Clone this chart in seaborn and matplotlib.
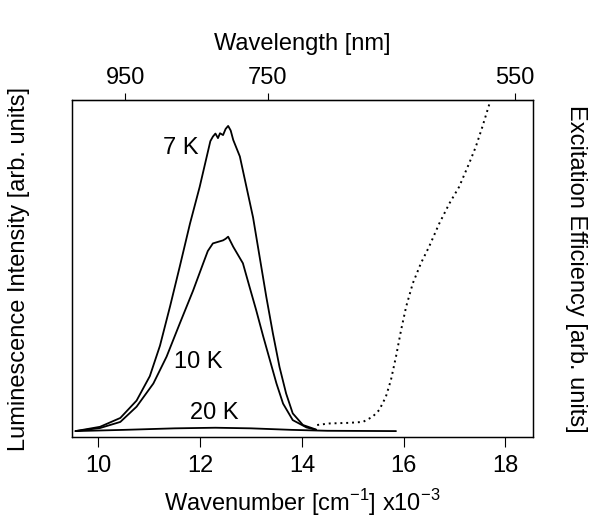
import matplotlib
matplotlib.use('Agg')
import matplotlib.pyplot as plt
import numpy as np
import pandas as pd
import seaborn as sns

# luminescence spectra (wavenumber x10^-3 cm^-1, arb. intensity)
wn_7k = [9.55, 10.03, 10.43, 10.75, 11.01, 11.21, 11.41, 11.60, 11.80, 11.99, 12.13,
         12.20, 12.25, 12.30, 12.35, 12.39, 12.45, 12.50, 12.55, 12.60, 12.65, 12.78,
         12.91, 13.04, 13.17, 13.30, 13.43, 13.56, 13.69, 13.82, 14.02, 14.28]
int_7k = [0.0, 0.014, 0.043, 0.10, 0.18, 0.28, 0.41, 0.54, 0.68, 0.80, 0.90,
          0.95, 0.965, 0.975, 0.96, 0.976, 0.97, 0.99, 1.0, 0.985, 0.954, 0.90,
          0.80, 0.70, 0.57, 0.44, 0.32, 0.21, 0.123, 0.058, 0.02, 0.005]

wn_10k = [9.55, 10.03, 10.43, 10.75, 11.08, 11.34, 11.60, 11.86, 12.06, 12.15, 12.25,
          12.35, 12.45, 12.50, 12.55, 12.65, 12.84, 12.97, 13.10, 13.24, 13.37,
          13.50, 13.63, 13.82, 14.09, 14.28]
int_10k = [0.0, 0.01, 0.03, 0.08, 0.156, 0.244, 0.353, 0.46, 0.55, 0.59, 0.615,
           0.62, 0.625, 0.63, 0.637, 0.604, 0.55, 0.473, 0.397, 0.31, 0.233,
           0.156, 0.09, 0.036, 0.012, 0.004]

wn_20k = [9.55, 10.5, 11.5, 12.3, 13.0, 13.8, 14.5, 15.85]
int_20k = [0.0, 0.004, 0.009, 0.011, 0.009, 0.004, 0.001, 0.0]

# excitation efficiency (dotted, right axis)
wn_exc = [14.30, 14.54, 14.93, 15.20, 15.39, 15.52, 15.65, 15.75, 15.85, 15.95,
          16.05, 16.18, 16.34, 16.50, 16.70, 16.90, 17.09, 17.29, 17.42, 17.55, 17.71]
eff_exc = [0.02, 0.025, 0.027, 0.03, 0.047, 0.069, 0.112, 0.167, 0.244, 0.331,
           0.408, 0.484, 0.55, 0.604, 0.68, 0.746, 0.80, 0.878, 0.932, 0.998, 1.085]

top_ticks = [950, 750, 550]

sns.set_style('ticks')
plt.rcParams['font.family'] = ['Liberation Sans', 'DejaVu Sans']
plt.rcParams['font.size'] = 17
plt.rcParams['mathtext.fontset'] = 'custom'
plt.rcParams['mathtext.rm'] = 'Liberation Sans'
for k in ['text.color', 'axes.labelcolor', 'xtick.color', 'ytick.color']:
    plt.rcParams[k] = 'black'

fig, ax = plt.subplots(figsize=(5.94, 5.18), dpi=100)
fig.subplots_adjust(left=0.1212, right=0.897, top=0.807, bottom=0.156)

for wn, val in [(wn_7k, int_7k), (wn_10k, int_10k), (wn_20k, int_20k)]:
    sns.lineplot(x=wn, y=val, ax=ax, color='black', lw=1.3, sort=False)

ax.set_xlim(9.48, 18.54)
ax.set_ylim(-0.02, 1.085)
ax.set_xticks([10, 12, 14, 16, 18])
ax.set_yticks([])
ax.tick_params(axis='x', direction='out', length=7, width=0.8, pad=6, labelsize=17)
ax.set_xlabel('Wavenumber [cm$^{\\rm{-}1}$] x10$^{\\rm{-}3}$', fontsize=17, labelpad=7)
ax.set_ylabel('Luminescence Intensity [arb. units]', fontsize=17)
ax.yaxis.set_label_coords(-0.091, 0.5)

ax2 = ax.twinx()
sns.lineplot(x=wn_exc, y=eff_exc, ax=ax2, color='black', lw=1.4, sort=False)
ax2.lines[0].set_linestyle((0, (1, 2.0)))
ax2.set_ylim(-0.02, 1.085)
ax2.set_yticks([])
ax2.set_ylabel('Excitation Efficiency [arb. units]', fontsize=17, rotation=270, va='center')
ax2.yaxis.set_label_coords(1.093, 0.5)

sec = ax.secondary_xaxis('top', functions=(lambda x: 1e4 / x, lambda x: 1e4 / x))
sec.set_xticks(top_ticks)
sec.tick_params(direction='out', length=5, width=0.8, pad=3, labelsize=17)
sec.set_xlabel('Wavelength [nm]', fontsize=17, labelpad=12)

for a in (ax, ax2):
    for s in a.spines.values():
        s.set_linewidth(0.9)
        s.set_color('black')

ax.text(11.62, 0.928, '7 K', ha='center', va='center', fontsize=17)
ax.text(11.96, 0.226, '10 K', ha='center', va='center', fontsize=17)
ax.text(12.27, 0.059, '20 K', ha='center', va='center', fontsize=17)

fig.savefig('out.png', dpi=100)
